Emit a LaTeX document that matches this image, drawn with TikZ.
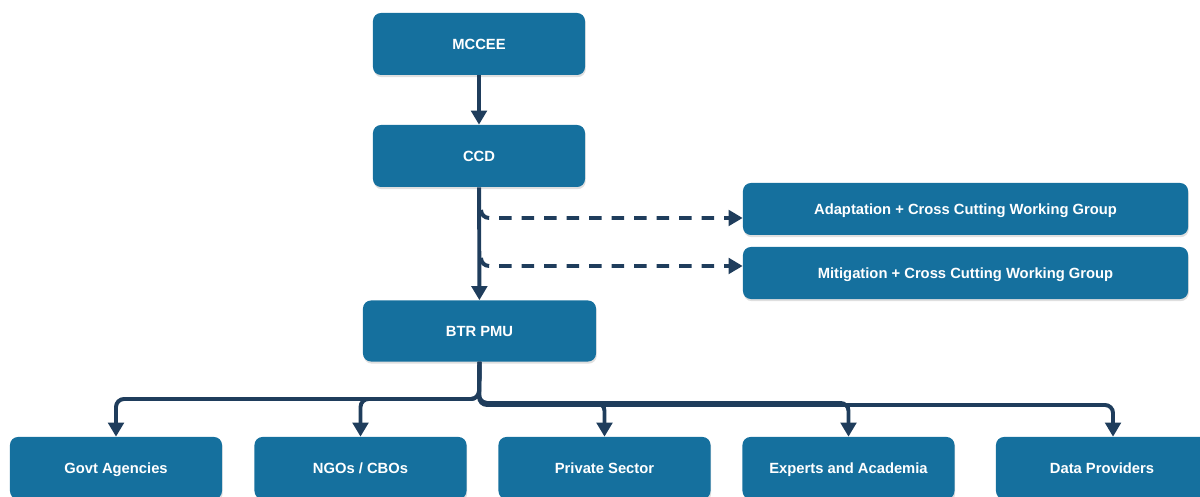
\documentclass[tikz,border=0pt]{standalone}
\usepackage{fontspec}
\setmainfont{Liberation Sans}
\usetikzlibrary{arrows.meta,shadows}

\definecolor{boxblue}{RGB}{21,112,158}
\definecolor{linenavy}{RGB}{31,61,92}

\tikzset{
    unit/.style={draw=none, fill=boxblue, rounded corners=0.2cm, text=white,
        font=\fontsize{10.5}{12}\selectfont\bfseries, align=center,
        text height=1.05em, text depth=0.2em,
        drop shadow={opacity=0.25, shadow xshift=0.5pt, shadow yshift=-1.5pt}},
    flow/.style={draw=linenavy, line width=2.8pt, rounded corners=0.2cm,
        -{Triangle[width=11pt,length=10pt]}},
    dashflow/.style={flow, dash pattern=on 9pt off 7pt}
}

\begin{document}
\begin{tikzpicture}[x=0.025cm, y=0.025cm]
        \useasboundingbox (0,0) rectangle (1200,497);

        \node[unit, minimum width=5.3cm, minimum height=1.55cm] (mccee) at (479,453) {MCCEE};
        \node[unit, minimum width=5.3cm, minimum height=1.55cm] (ccd) at (479,341) {CCD};
        \node[unit, minimum width=5.825cm, minimum height=1.525cm] (pmu) at (479.5,166) {BTR PMU};

        \node[unit, minimum width=11.125cm, minimum height=1.3cm] (adapt) at (965.5,288) {Adaptation + Cross Cutting Working Group};
        \node[unit, minimum width=11.125cm, minimum height=1.3cm] (mitig) at (965.5,224) {Mitigation + Cross Cutting Working Group};

        \foreach \n/\x/\t in {govt/116/Govt Agencies, ngo/360.5/{NGOs / CBOs}, priv/604.5/Private Sector,
                expert/848.5/Experts and Academia, data/1102/Data Providers} {
            \node[unit, minimum width=5.3cm, minimum height=1.55cm] (\n) at (\x,29) {\t};
        }

        \draw[flow] (mccee) -- (ccd);
        \draw[flow] (ccd) -- (pmu);

        % working groups
        \coordinate (tapA) at (481,287);
        \coordinate (tapM) at (481,239);
        \draw[dashflow] (tapA) |- ([yshift=-0.225cm]adapt.west);
        \draw[dashflow] (tapM) |- ([yshift=0.175cm]mitig.west);

        % stakeholders
        \coordinate (busL) at (479,98);
        \coordinate (busR) at (479,94);
        \coordinate (busD) at (479,92);
        \foreach \n/\b in {govt/busL, ngo/busL, priv/busR, expert/busR} {
            \draw[flow] (pmu.south) -- (\b) -| (\n.north);
        }
        \draw[flow] (pmu.south) -- (busD) -| ([xshift=0.275cm]data.north);
    \end{tikzpicture}
\end{document}
